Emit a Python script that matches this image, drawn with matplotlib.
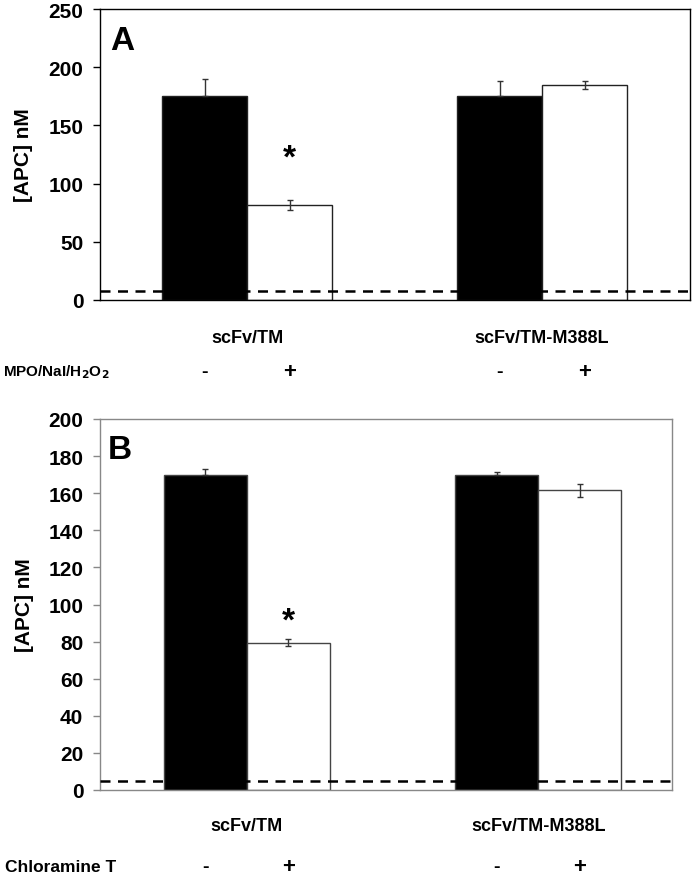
import matplotlib
matplotlib.use('Agg')
import matplotlib.pyplot as plt

# data
groups = ['scFv/TM', 'scFv/TM-M388L']
signs = ['-', '+']
a_untreated = [175, 175.5]
a_untreated_err = [15, 12.5]
a_treated = [81.5, 184.5]
a_treated_err = [4, 3.5]
a_baseline = 8
b_untreated = [170, 170]
b_untreated_err = [3, 1.5]
b_treated = [79.5, 161.5]
b_treated_err = [1.8, 3.5]
b_baseline = 4.7

plt.rcParams['font.family'] = ['Liberation Sans', 'DejaVu Sans']
plt.rcParams['font.weight'] = 'bold'

fig = plt.figure(figsize=(6.94, 8.78), dpi=100)
W, H = 694, 878

def draw(ax, centers, unt, unt_err, trt, trt_err, base, ymax, step, frame_col, edge_col, xmax):
    xl = [c - 0.5 for c in centers]
    xr = [c + 0.5 for c in centers]
    ax.bar(xl, unt, width=1, color='black', edgecolor=edge_col, linewidth=1, zorder=2)
    ax.bar(xr, trt, width=1, color='white', edgecolor=edge_col, linewidth=1, zorder=2)
    # only the upper half shows above a black bar
    ax.errorbar(xl, unt, yerr=[[0] * len(unt), unt_err], fmt='none', ecolor='#333333',
                elinewidth=1, capsize=2.5, capthick=1, zorder=3)
    ax.errorbar(xr, trt, yerr=trt_err, fmt='none', ecolor='#333333',
                elinewidth=1, capsize=2.5, capthick=1, zorder=3)
    ax.axhline(base, color='black', linestyle=(0, (4, 3)), linewidth=1.8, zorder=4)
    ax.set_xlim(0, xmax)
    ax.set_ylim(0, ymax)
    ax.set_yticks(range(0, ymax + 1, step))
    ax.set_xticks([])
    for s in ax.spines.values():
        s.set_color(frame_col)
        s.set_linewidth(1)
    ax.tick_params(axis='y', direction='out', length=5, width=1, color=frame_col,
                   labelsize=15, pad=7)
    for lab in ax.get_yticklabels():
        lab.set_fontweight('bold')
    return xl, xr

# panel A
axA = fig.add_axes([100 / W, 1 - 301 / H, 590 / W, 291 / H])
cA = [1.73, 5.2]
xlA, xrA = draw(axA, cA, a_untreated, a_untreated_err, a_treated, a_treated_err,
                a_baseline, 250, 50, 'black', '#222222', 590 / 85)
axA.text(0.017, 0.893, 'A', transform=axA.transAxes, fontsize=24, fontweight='bold', va='center')
axA.text(xrA[0], 122, '*', fontsize=24, fontweight='bold', ha='center', va='center')
tr = axA.get_xaxis_transform()
for c, g in zip(cA, groups):
    axA.text(c, -0.13, g, transform=tr, ha='center', va='center', fontsize=13, fontweight='bold', clip_on=False)
for x in xlA:
    axA.text(x, -0.245, '-', transform=tr, ha='center', va='center', fontsize=14, fontweight='bold', clip_on=False)
for x in xrA:
    axA.text(x, -0.245, '+', transform=tr, ha='center', va='center', fontsize=16, fontweight='bold', clip_on=False)
fig.text(3 / W, 1 - 372 / H, r'MPO/NaI/H$_\mathbf{2}$O$_\mathbf{2}$', ha='left', va='center',
         fontsize=11, fontweight='bold')
axA.set_ylabel('[APC] nM', fontsize=15, fontweight='bold')
axA.yaxis.set_label_coords(-0.113, 0.5)

# panel B
axB = fig.add_axes([100 / W, 1 - 791 / H, 572 / W, 371 / H])
cB = [1.77, 5.28]
xlB, xrB = draw(axB, cB, b_untreated, b_untreated_err, b_treated, b_treated_err,
                b_baseline, 200, 20, '#888888', '#444444', 572 / 83)
axB.text(0.014, 0.919, 'B', transform=axB.transAxes, fontsize=24, fontweight='bold', va='center')
axB.text(xrB[0], 91, '*', fontsize=24, fontweight='bold', ha='center', va='center')
tr = axB.get_xaxis_transform()
for c, g in zip(cB, groups):
    axB.text(c, -0.097, g, transform=tr, ha='center', va='center', fontsize=13, fontweight='bold', clip_on=False)
for x in xlB:
    axB.text(x, -0.207, '-', transform=tr, ha='center', va='center', fontsize=14, fontweight='bold', clip_on=False)
for x in xrB:
    axB.text(x, -0.207, '+', transform=tr, ha='center', va='center', fontsize=16, fontweight='bold', clip_on=False)
fig.text(5 / W, 1 - 868 / H, 'Chloramine T', ha='left', va='center', fontsize=12.5, fontweight='bold')
axB.set_ylabel('[APC] nM', fontsize=15, fontweight='bold')
axB.yaxis.set_label_coords(-0.115, 0.5)

fig.savefig('out.png', dpi=100)
